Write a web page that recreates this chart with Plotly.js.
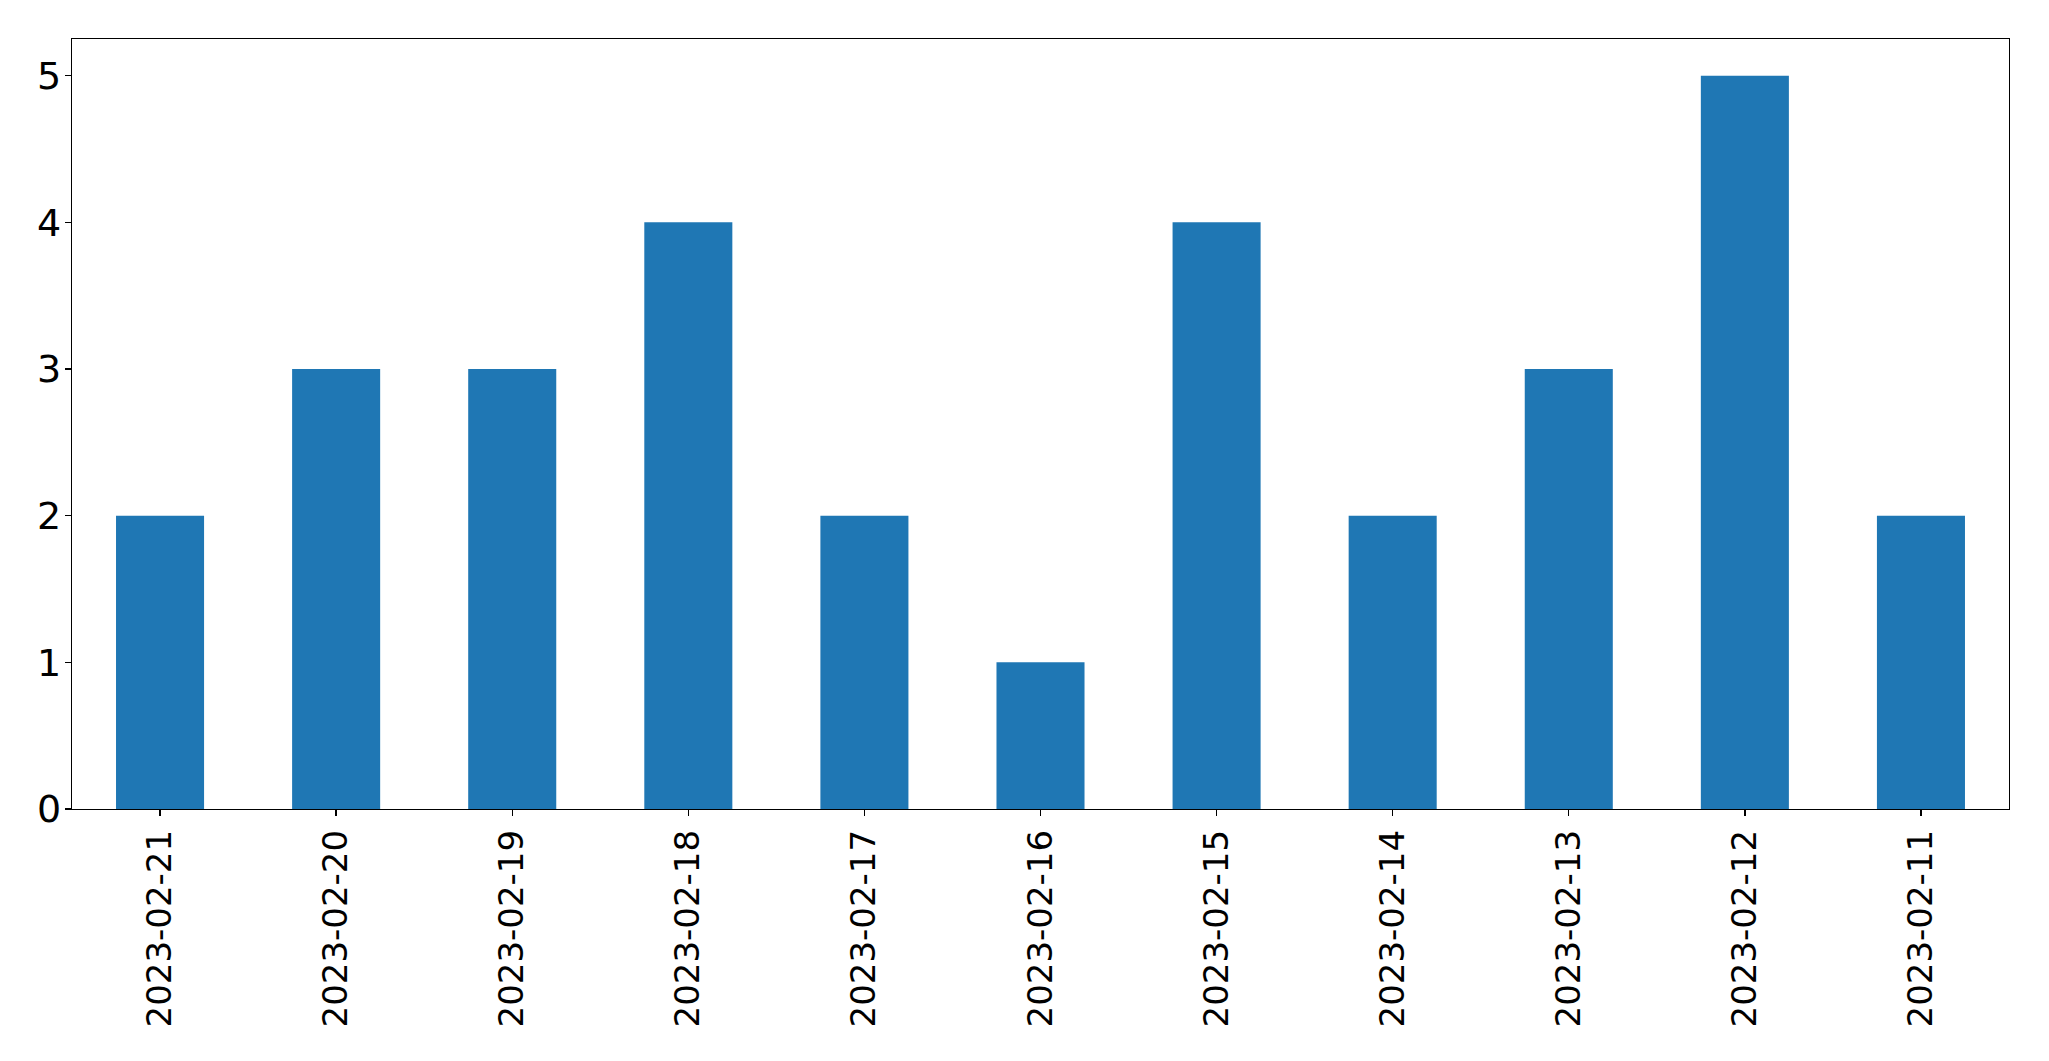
<!DOCTYPE html>
<html>
<head>
<meta charset="utf-8">
<script src="https://cdn.plot.ly/plotly-3.0.1.min.js"></script>
<style>html,body{margin:0;padding:0;background:#fff;}#chart{width:2049px;height:1061px;}</style>
</head>
<body>
<div id="chart"></div>
<script>
const dates = ["2023-02-21","2023-02-20","2023-02-19","2023-02-18","2023-02-17","2023-02-16","2023-02-15","2023-02-14","2023-02-13","2023-02-12","2023-02-11"];
const counts = [2,3,3,4,2,1,4,2,3,5,2];
const yTicks = [0,1,2,3,4,5];

const trace = {
  type: 'bar',
  x: dates,
  y: counts,
  width: 0.5,
  marker: {color: '#1f77b4', line: {width: 0}},
  hoverinfo: 'x+y'
};

const layout = {
  width: 2049,
  height: 1061,
  margin: {l: 72, r: 40, t: 39, b: 252, pad: 0},
  paper_bgcolor: '#ffffff',
  plot_bgcolor: '#ffffff',
  showlegend: false,
  font: {family: 'DejaVu Sans', color: '#000000', size: 34},
  xaxis: {
    type: 'category',
    range: [-0.5, 10.5],
    tickangle: -90,
    ticks: 'outside',
    ticklen: 6,
    tickwidth: 1.3,
    tickcolor: '#000',
    showgrid: false,
    zeroline: false,
    showline: true,
    linecolor: '#000',
    linewidth: 1.3,
    mirror: true,
    tickfont: {family: 'DejaVu Sans', size: 34, color: '#000'}
  },
  yaxis: {
    range: [0, 5.25],
    tickvals: yTicks,
    ticktext: yTicks.map(String),
    ticks: 'outside',
    ticklen: 6,
    tickwidth: 1.3,
    tickcolor: '#000',
    ticklabelstandoff: -4,
    showgrid: false,
    zeroline: false,
    showline: true,
    linecolor: '#000',
    linewidth: 1.3,
    mirror: true,
    tickfont: {family: 'DejaVu Sans', size: 38, color: '#000'}
  }
};

Plotly.newPlot('chart', [trace], layout, {displayModeBar: false, staticPlot: true});
</script>
</body>
</html>
